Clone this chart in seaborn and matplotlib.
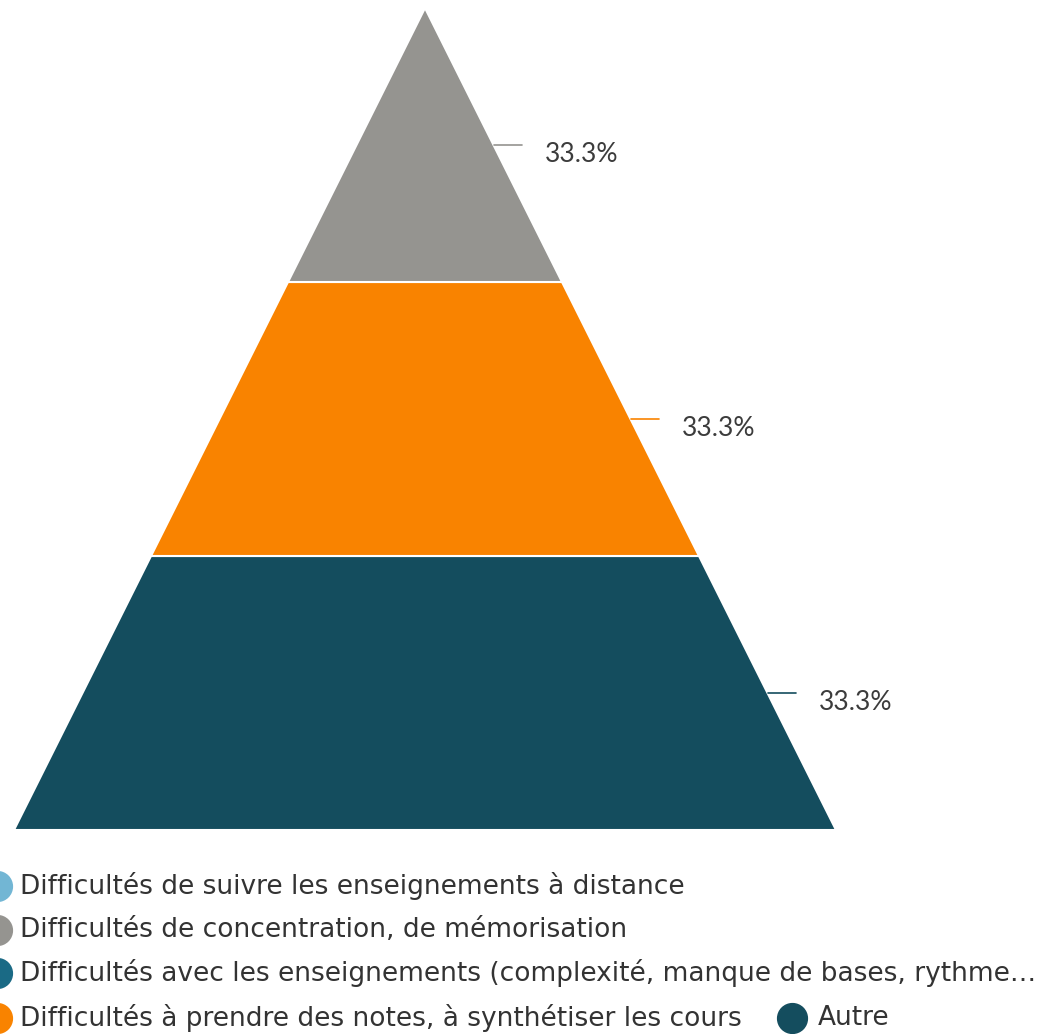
import numpy as np
import matplotlib.pyplot as plt
import seaborn as sns

# Data
segments = ['Autre', 'Difficultés à prendre des notes, à synthétiser les cours',
            'Difficultés de concentration, de mémorisation']
values = [33.3, 33.3, 33.3]
seg_colors = ['#144d5e', '#f98300', '#959490']

legend_labels = ['Difficultés de suivre les enseignements à distance',
                 'Difficultés de concentration, de mémorisation',
                 'Difficultés avec les enseignements (complexité, manque de bases, rythme…',
                 'Difficultés à prendre des notes, à synthétiser les cours',
                 'Autre']
legend_colors = ['#72b6d4', '#959490', '#1a6a85', '#f98300', '#144d5e']

sns.set_theme(style='white')
plt.rcParams['font.family'] = ['DejaVu Sans']

W, H = 1057, 1034
fig = plt.figure(figsize=(W / 100, H / 100), dpi=100)

# pyramid axes: apex at y=8 px, base at y=830 px, base from x=14 to 836
ax = fig.add_axes([14 / W, (H - 830) / H, (836 - 14) / W, (830 - 8) / H])
ax.set_xlim(-0.5, 0.5)
total = sum(values)
ax.set_ylim(0, total)
ax.axis('off')

def half_width(y):
    return 0.5 * (1 - y / total)

bottom = 0
for name, v, c in zip(segments, values, seg_colors):
    top = bottom + v
    xs = [-half_width(bottom), half_width(bottom), half_width(top), -half_width(top)]
    ys = [bottom, bottom, top, top]
    ax.fill(xs, ys, color=c, edgecolor='white', linewidth=1.5, clip_on=False)
    mid = bottom + v / 2
    x0 = half_width(mid)
    ax.plot([x0, x0 + 0.035], [mid, mid], color=c, linewidth=1.2, clip_on=False)
    ax.text(x0 + 0.062, mid - 1.1, f'{v:.1f}%', va='center', ha='left',
            fontsize=19, color='#3c3c3c', family='Lato')
    bottom = top

# legend
leg_ax = fig.add_axes([0, 0, 1, 1])
leg_ax.set_xlim(0, W)
leg_ax.set_ylim(H, 0)
leg_ax.axis('off')
rows = [886, 930, 973, 1018]
for i in range(4):
    leg_ax.scatter([-3], [rows[i]], s=460, color=legend_colors[i], clip_on=True)
    leg_ax.text(20, rows[i], legend_labels[i], va='center', ha='left',
                fontsize=19, color='#333333')
leg_ax.scatter([792], [rows[3]], s=460, color=legend_colors[4])
leg_ax.text(818, rows[3], legend_labels[4], va='center', ha='left',
            fontsize=19, color='#333333')

fig.savefig('out.png', dpi=100)
